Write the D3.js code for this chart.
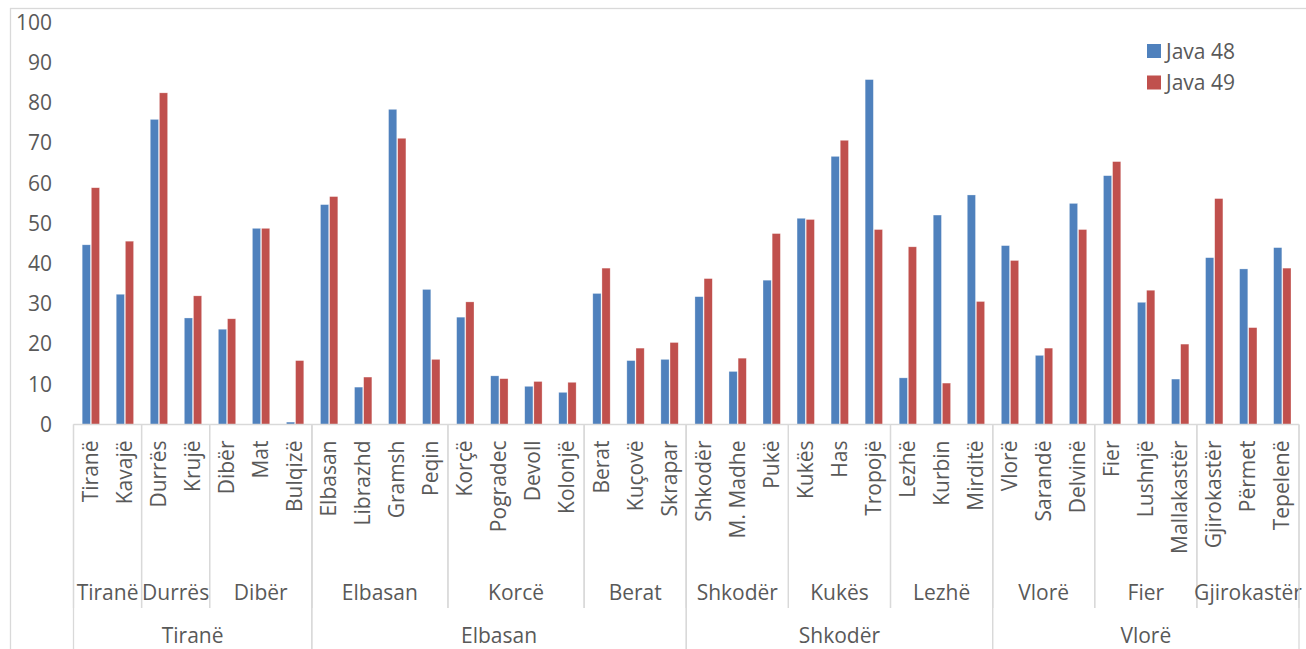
<!DOCTYPE html>
<html>
<head>
<meta charset="utf-8">
<script src="https://cdn.jsdelivr.net/npm/d3@7"></script>
<style>
  body { margin: 0; background: #fff; }
  svg { display: block; font-family: "Open Sans", sans-serif; }
  text { fill: #595959; }
</style>
</head>
<body>
<div id="chart"></div>
<script>
// districts (lowest level of the category axis)
var rrethet = ["Tiranë", "Kavajë", "Durrës", "Krujë", "Dibër", "Mat", "Bulqizë",
  "Elbasan", "Librazhd", "Gramsh", "Peqin", "Korçë", "Pogradec", "Devoll", "Kolonjë",
  "Berat", "Kuçovë", "Skrapar", "Shkodër", "M. Madhe", "Pukë", "Kukës", "Has", "Tropojë",
  "Lezhë", "Kurbin", "Mirditë", "Vlorë", "Sarandë", "Delvinë", "Fier", "Lushnjë",
  "Mallakastër", "Gjirokastër", "Përmet", "Tepelenë"];
// prefectures (middle level) and how many districts each spans
var prefekturat = ["Tiranë", "Durrës", "Dibër", "Elbasan", "Korcë", "Berat",
  "Shkodër", "Kukës", "Lezhë", "Vlorë", "Fier", "Gjirokastër"];
var prefSize = [2, 2, 3, 4, 4, 3, 3, 3, 3, 3, 3, 3];
// regions (top level)
var rajonet = ["Tiranë", "Elbasan", "Shkodër", "Vlorë"];
var rajonSize = [7, 11, 9, 9];

var seriesNames = ["Java 48", "Java 49"];
var java48 = [44.7, 32.4, 75.9, 26.5, 23.7, 48.8, 0.6, 54.7, 9.3, 78.4, 33.6,
  26.7, 12.1, 9.5, 8.0, 32.6, 15.9, 16.2, 31.8, 13.2, 35.9, 51.3, 66.7, 85.8,
  11.6, 52.1, 57.1, 44.5, 17.2, 55.0, 61.9, 30.4, 11.3, 41.5, 38.7, 44.0];
var java49 = [58.9, 45.6, 82.5, 32.0, 26.3, 48.8, 15.9, 56.7, 11.8, 71.2, 16.2,
  30.5, 11.4, 10.7, 10.5, 38.9, 19.0, 20.4, 36.3, 16.5, 47.5, 51.0, 70.7, 48.5,
  44.2, 10.3, 30.6, 40.8, 19.0, 48.5, 65.4, 33.4, 20.0, 56.2, 24.1, 38.9];
var yTicks = [0, 10, 20, 30, 40, 50, 60, 70, 80, 90, 100];

var colors = ["#4f81bd", "#c0504d"];
var W = 1306, H = 649;
var axisY = 424.5;
var gridColor = "#d9d9d9";

var svg = d3.select("#chart").append("svg").attr("width", W).attr("height", H);

// chart frame
svg.append("rect").attr("x", 10.5).attr("y", 8.5).attr("width", W + 10).attr("height", H + 10)
  .attr("fill", "none").attr("stroke", gridColor).attr("stroke-width", 1.3);

var x = d3.scaleBand().domain(d3.range(rrethet.length)).range([73.5, 1299]).padding(0);
var bw = x.bandwidth();
var x1 = d3.scaleBand().domain([0, 1]).range([bw * 0.255, bw * 0.765]).paddingInner(0.1);
var y = d3.scaleLinear().domain([0, 100]).range([axisY, 22.5]);

// y axis labels
var yAxis = d3.axisLeft(y).tickValues(yTicks).tickSize(0).tickPadding(0);
var yg = svg.append("g").attr("transform", "translate(52,0)").call(yAxis);
yg.select(".domain").remove();
yg.selectAll("text").style("font-size", "21px").style("font-family", "Open Sans").attr("fill", "#595959");

// bars
var data = rrethet.map(function (d, i) { return { i: i, vals: [java48[i], java49[i]] }; });
var groups = svg.selectAll(".cat").data(data).enter().append("g").attr("class", "cat")
  .attr("transform", function (d) { return "translate(" + x(d.i) + ",0)"; });
groups.selectAll("rect").data(function (d) { return d.vals; }).enter().append("rect")
  .attr("x", function (d, j) { return x1(j); })
  .attr("width", x1.bandwidth())
  .attr("y", function (d) { return y(d); })
  .attr("height", function (d) { return axisY - y(d); })
  .attr("fill", function (d, j) { return colors[j]; })
  .attr("stroke", "#ffffff").attr("stroke-opacity", 0.5).attr("stroke-width", 0.6);

// category axis line
svg.append("line").attr("x1", x.range()[0]).attr("x2", x.range()[1]).attr("y1", axisY).attr("y2", axisY)
  .attr("stroke", gridColor).attr("stroke-width", 1.5);

// district labels, rotated
svg.selectAll(".lbl1").data(rrethet).enter().append("text").attr("class", "lbl1")
  .attr("transform", function (d, i) { return "translate(" + (x(i) + bw / 2) + ",440.5) rotate(-90)"; })
  .attr("text-anchor", "end").attr("dy", "0.35em").style("font-size", "21px")
  .text(function (d) { return d; });

// group boundaries and labels for a level
function drawLevel(names, sizes, yLabel, yEnd) {
  var start = 0;
  names.forEach(function (n, k) {
    var x0 = x(start), x2 = x(start + sizes[k] - 1) + bw;
    svg.append("line").attr("x1", x0).attr("x2", x0).attr("y1", axisY).attr("y2", yEnd)
      .attr("stroke", gridColor).attr("stroke-width", 1.3);
    svg.append("line").attr("x1", x2).attr("x2", x2).attr("y1", axisY).attr("y2", yEnd)
      .attr("stroke", gridColor).attr("stroke-width", 1.3);
    svg.append("text").attr("x", (x0 + x2) / 2).attr("y", yLabel).attr("dy", "0.35em")
      .attr("text-anchor", "middle").style("font-size", "21px").text(n);
    start += sizes[k];
  });
}
drawLevel(prefekturat, prefSize, 593, 608);
drawLevel(rajonet, rajonSize, 636, H);

// legend
var legend = svg.selectAll(".legend").data(seriesNames).enter().append("g").attr("class", "legend")
  .attr("transform", function (d, i) { return "translate(1147," + (44 + i * 31.5) + ")"; });
legend.append("rect").attr("width", 14).attr("height", 14).attr("fill", function (d, i) { return colors[i]; });
legend.append("text").attr("x", 19).attr("y", 7).attr("dy", "0.36em").style("font-size", "21px")
  .text(function (d) { return d; });
</script>
</body>
</html>
